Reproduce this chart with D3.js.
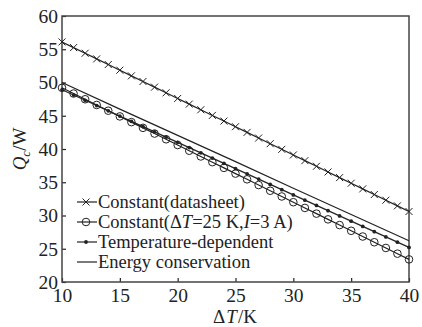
<!DOCTYPE html>
<html>
<head>
<meta charset="utf-8">
<script src="https://cdn.jsdelivr.net/npm/d3@7"></script>
<style>
  body { margin: 0; background: #fff; }
  svg text { font-family: "Liberation Serif", "Tinos", "Times New Roman", "DejaVu Serif", "Noto Serif", serif; fill: #222; }
</style>
</head>
<body>
<div id="chart"></div>
<script>
// delta T values (K)
const deltaT = [10, 11, 12, 13, 14, 15, 16, 17, 18, 19, 20, 21, 22, 23, 24, 25,
    26, 27, 28, 29, 30, 31, 32, 33, 34, 35, 36, 37, 38, 39, 40];

const constDatasheet = [56.1, 55.25, 54.4, 53.55, 52.7, 51.85, 51.0, 50.15, 49.3, 48.45,
    47.6, 46.75, 45.9, 45.05, 44.2, 43.35, 42.5, 41.65, 40.8, 39.95, 39.1,
    38.25, 37.4, 36.55, 35.7, 34.85, 34.0, 33.15, 32.3, 31.45, 30.6];

const constFixed = [49.2, 48.34, 47.48, 46.62, 45.76, 44.9, 44.04, 43.18, 42.32, 41.46,
    40.6, 39.74, 38.88, 38.02, 37.16, 36.3, 35.44, 34.58, 33.72, 32.86, 32.0,
    31.14, 30.28, 29.42, 28.56, 27.7, 26.84, 25.98, 25.12, 24.26, 23.4];

const tempDependent = [48.9, 48.11, 47.32, 46.53, 45.74, 44.95, 44.16, 43.37, 42.58, 41.79,
    41.0, 40.21, 39.42, 38.63, 37.84, 37.05, 36.26, 35.47, 34.68, 33.89, 33.1,
    32.31, 31.52, 30.73, 29.94, 29.15, 28.36, 27.57, 26.78, 25.99, 25.2];

const energyT = [10, 15, 20, 25, 30, 35, 40];
const energyCons = [50.0, 46.0, 42.05, 38.1, 34.1, 30.15, 26.2];

const xTicks = [10, 15, 20, 25, 30, 35, 40];
const yTicks = [20, 25, 30, 35, 40, 45, 50, 55, 60];

const W = 422, H = 327;
const margin = { left: 62, right: 409, top: 16, bottom: 282 };
const ink = "#222";

const svg = d3.select("#chart").append("svg")
    .attr("width", W).attr("height", H);

svg.append("rect").attr("width", W).attr("height", H).attr("fill", "#fff");

let x = d3.scaleLinear().domain([10, 40]).range([margin.left, margin.right]);
let y = d3.scaleLinear().domain([20, 60]).range([margin.bottom, margin.top]);

// axes with inward ticks
let xAxis = svg.append("g")
    .attr("transform", "translate(0," + margin.bottom + ")")
    .call(d3.axisBottom(x).tickValues(xTicks).tickSize(-4).tickPadding(6));
let yAxis = svg.append("g")
    .attr("transform", "translate(" + margin.left + ",0)")
    .call(d3.axisLeft(y).tickValues(yTicks).tickSize(-4).tickPadding(4));

[xAxis, yAxis].forEach(a => {
    a.attr("font-family", null);
    a.select(".domain").remove();
    a.selectAll("line").attr("stroke", ink).attr("stroke-width", 1.2);
    a.selectAll("text")
        .attr("font-size", 19.5)
        .attr("fill", ink);
});
xAxis.selectAll("text").attr("dy", "0.7em");
yAxis.selectAll("text").attr("dy", "0.33em");

// frame
svg.append("rect")
    .attr("x", margin.left).attr("y", margin.top)
    .attr("width", margin.right - margin.left).attr("height", margin.bottom - margin.top)
    .attr("fill", "none").attr("stroke", "#444").attr("stroke-width", 1.5);

let line = d3.line().x(d => x(d[0])).y(d => y(d[1]));

function series(vals) { return deltaT.map((t, i) => [t, vals[i]]); }

let plot = svg.append("g");

// energy conservation
plot.append("path")
    .datum(energyT.map((t, i) => [t, energyCons[i]]))
    .attr("d", line).attr("fill", "none").attr("stroke", ink).attr("stroke-width", 1.2);

[constDatasheet, constFixed, tempDependent].forEach(vals => {
    plot.append("path")
        .datum(series(vals))
        .attr("d", line).attr("fill", "none").attr("stroke", ink).attr("stroke-width", 1.2);
});

function crossMark(g, cx, cy) {
    g.append("path")
        .attr("d", `M${cx - 3.5},${cy - 3.5}L${cx + 3.5},${cy + 3.5}M${cx - 3.5},${cy + 3.5}L${cx + 3.5},${cy - 3.5}`)
        .attr("stroke", ink).attr("stroke-width", 1);
}
function circleMark(g, cx, cy) {
    g.append("circle").attr("cx", cx).attr("cy", cy).attr("r", 3.8)
        .attr("fill", "none").attr("stroke", ink).attr("stroke-width", 1);
}
function dotMark(g, cx, cy) {
    g.append("circle").attr("cx", cx).attr("cy", cy).attr("r", 1.9).attr("fill", ink);
}

series(constDatasheet).forEach(d => crossMark(plot, x(d[0]), y(d[1])));
series(constFixed).forEach(d => circleMark(plot, x(d[0]), y(d[1])));
series(tempDependent).forEach(d => dotMark(plot, x(d[0]), y(d[1])));

// legend
let legend = svg.append("g").attr("transform", "translate(77,202)");
let legendItems = [
    { mark: crossMark, parts: [["Constant(datasheet)", false]] },
    { mark: circleMark, parts: [["Constant(Δ", false], ["T", true], ["=25 K,", false], ["I", true], ["=3 A)", false]] },
    { mark: dotMark, parts: [["Temperature-dependent", false]] },
    { mark: null, parts: [["Energy conservation", false]] }
];
legendItems.forEach((item, i) => {
    let ly = i * 20;
    legend.append("line").attr("x1", 0).attr("x2", 20).attr("y1", ly).attr("y2", ly)
        .attr("stroke", ink).attr("stroke-width", 1.2);
    if (item.mark) item.mark(legend, 9, ly);
    let t = legend.append("text").attr("x", 21).attr("y", ly + 6).attr("font-size", 18.5);
    item.parts.forEach(p => {
        t.append("tspan").text(p[0]).attr("font-style", p[1] ? "italic" : "normal");
    });
});

// x axis title
let xt = svg.append("text").attr("x", 235).attr("y", 323)
    .attr("text-anchor", "middle").attr("font-size", 19);
xt.append("tspan").text("Δ");
xt.append("tspan").text("T").attr("font-style", "italic").attr("dx", 1);
xt.append("tspan").text("/K").attr("dx", 1);

let yt = svg.append("text")
    .attr("transform", "translate(26,149) rotate(-90)")
    .attr("text-anchor", "middle").attr("font-size", 19);
yt.append("tspan").text("Q").attr("font-style", "italic");
yt.append("tspan").text("c").attr("font-style", "italic").attr("font-size", 13).attr("dy", 4);
yt.append("tspan").text("/W").attr("dy", -4);
</script>
</body>
</html>
